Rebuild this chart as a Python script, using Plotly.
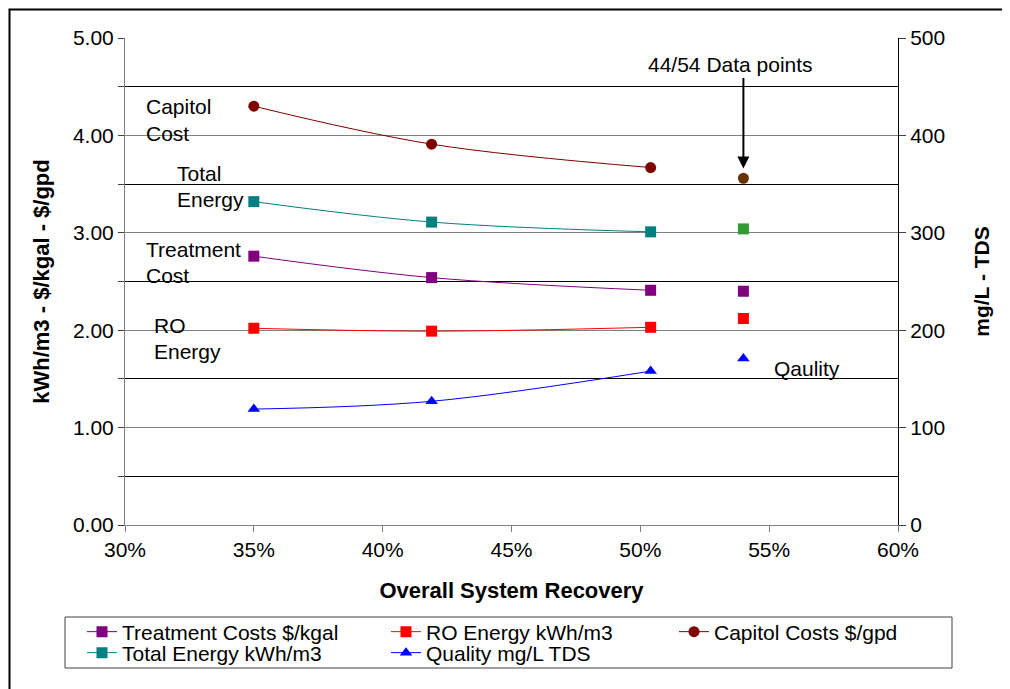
import plotly.graph_objects as go

# ---- data ----
recovery = [0.35, 0.419, 0.504]
treatment_cost = [2.76, 2.54, 2.41]
ro_energy = [2.02, 1.99, 2.03]
capitol_cost = [4.30, 3.91, 3.67]
total_energy = [3.32, 3.11, 3.01]
quality_tds = [119, 127, 158]

extra_recovery = [0.54]
extra_treatment = [2.40]
extra_ro = [2.12]
extra_capitol = [3.56]
extra_total = [3.04]
extra_quality = [171]

FONT = "Liberation Sans, Arial, sans-serif"
FS = 21

# plot-area geometry in screen pixels (used only to place legends / frame)
L, R, T, B = 125, 898, 38, 525
W, H = R - L, B - T
OFF = 8  # page body offset


def px_x(p):
    return (p - L) / W


def px_y(p):
    return (B - p) / H


fig = go.Figure()


def main_trace(y, name, color, symbol, legend, yaxis="y"):
    return go.Scatter(
        x=recovery, y=y, name=name, mode="lines+markers", yaxis=yaxis, legend=legend,
        line=dict(color=color, width=1, shape="spline", smoothing=1),
        marker=dict(color=color, symbol=symbol, size=11),
    )


def extra_trace(y, color, symbol, yaxis="y"):
    return go.Scatter(
        x=extra_recovery, y=y, mode="markers", showlegend=False, yaxis=yaxis,
        marker=dict(color=color, symbol=symbol, size=11),
    )


fig.add_trace(main_trace(treatment_cost, "Treatment Costs $/kgal", "#800080", "square", "legend"))
fig.add_trace(main_trace(ro_energy, "RO Energy kWh/m3", "#FF0000", "square", "legend2"))
fig.add_trace(main_trace(capitol_cost, "Capitol Costs $/gpd", "#800000", "circle", "legend3"))
fig.add_trace(main_trace(total_energy, "Total Energy kWh/m3", "#008080", "square", "legend4"))
fig.add_trace(main_trace(quality_tds, "Quality mg/L TDS", "#0000FF", "triangle-up", "legend5", yaxis="y2"))

fig.add_trace(extra_trace(extra_treatment, "#800080", "square"))
fig.add_trace(extra_trace(extra_ro, "#FF0000", "square"))
fig.add_trace(extra_trace(extra_capitol, "#663300", "circle"))
fig.add_trace(extra_trace(extra_total, "#339933", "square"))
fig.add_trace(extra_trace(extra_quality, "#0000FF", "triangle-up", yaxis="y2"))

labels = [
    ("Capitol", 0.3075, 4.30),
    ("Cost", 0.3075, 4.02),
    ("Total", 0.3195, 3.61),
    ("Energy", 0.3195, 3.34),
    ("Treatment", 0.3072, 2.83),
    ("Cost", 0.3072, 2.56),
    ("RO", 0.3105, 2.05),
    ("Energy", 0.3105, 1.78),
    ("Qaulity", 0.551, 1.61),
]
annotations = [
    dict(text=t, x=x, y=y, xref="x", yref="y", showarrow=False,
         xanchor="left", yanchor="middle", font=dict(size=FS, color="black", family=FONT))
    for t, x, y in labels
]
annotations.append(dict(text="44/54 Data points", x=0.535, y=4.73, xref="x", yref="y",
                        showarrow=False, font=dict(size=FS, color="black", family=FONT)))
annotations.append(dict(text="", x=0.54, y=3.66, xref="x", yref="y", showarrow=True,
                        ax=0, ay=-92, axref="pixel", ayref="pixel",
                        arrowhead=2, arrowsize=1.2, arrowwidth=2, arrowcolor="black"))


def leg(x_px, y_px):
    return dict(
        orientation="v", x=px_x(x_px), y=px_y(y_px), xanchor="left", yanchor="middle",
        borderwidth=0, bgcolor="rgba(0,0,0,0)", font=dict(size=FS, family=FONT, color="black"),
        itemwidth=30,
    )


ml = L - OFF
mt = T - OFF
fig.update_layout(
    width=1010, height=689,
    margin=dict(l=ml, r=1010 - ml - W, t=mt, b=689 - mt - H, autoexpand=False),
    paper_bgcolor="white", plot_bgcolor="white",
    font=dict(family=FONT, size=FS, color="black"),
    showlegend=True,
    legend=leg(82, 632),
    legend2=leg(386, 632),
    legend3=leg(674, 632),
    legend4=leg(82, 653),
    legend5=leg(386, 653),
    xaxis=dict(
        range=[0.30, 0.60], dtick=0.05, tick0=0.30, tickformat=".0%",
        showgrid=False, zeroline=False, showline=True, linecolor="#808080", linewidth=1,
        ticks="outside", ticklen=6, tickcolor="#808080", automargin=False,
        title=dict(text="<b>Overall System Recovery</b>", font=dict(size=22), standoff=22),
    ),
    yaxis=dict(
        range=[0, 5], dtick=1, tick0=0, tickformat=".2f",
        showgrid=True, gridcolor="#808080", gridwidth=1, zeroline=False,
        showline=True, linecolor="#808080", linewidth=1,
        ticks="outside", ticklen=6, tickcolor="#404040", automargin=False,
        minor=dict(dtick=0.5, showgrid=True, gridcolor="black", gridwidth=1,
                   ticks="outside", ticklen=6, tickcolor="#404040"),
        title=dict(text="<b>kWh/m3 - $/kgal - $/gpd</b>", font=dict(size=22), standoff=17),
    ),
    yaxis2=dict(
        range=[0, 500], dtick=100, tick0=0, overlaying="y", side="right",
        showgrid=False, zeroline=False, showline=True, linecolor="black", linewidth=1,
        ticks="outside", ticklen=7, tickcolor="#404040", automargin=False,
        title=dict(text="<b>mg/L - TDS</b>", font=dict(size=FS), standoff=30),
    ),
    annotations=annotations,
    shapes=[
        dict(type="rect", xref="paper", yref="paper",
             x0=px_x(9.5), x1=px_x(1030), y0=px_y(710), y1=px_y(9.5),
             line=dict(color="black", width=2), fillcolor="rgba(0,0,0,0)", layer="below"),
        dict(type="rect", xref="paper", yref="paper",
             x0=px_x(65), x1=px_x(952), y0=px_y(668), y1=px_y(617),
             line=dict(color="#404040", width=1), fillcolor="rgba(0,0,0,0)", layer="below"),
    ],
)

fig.write_html("out.html")
